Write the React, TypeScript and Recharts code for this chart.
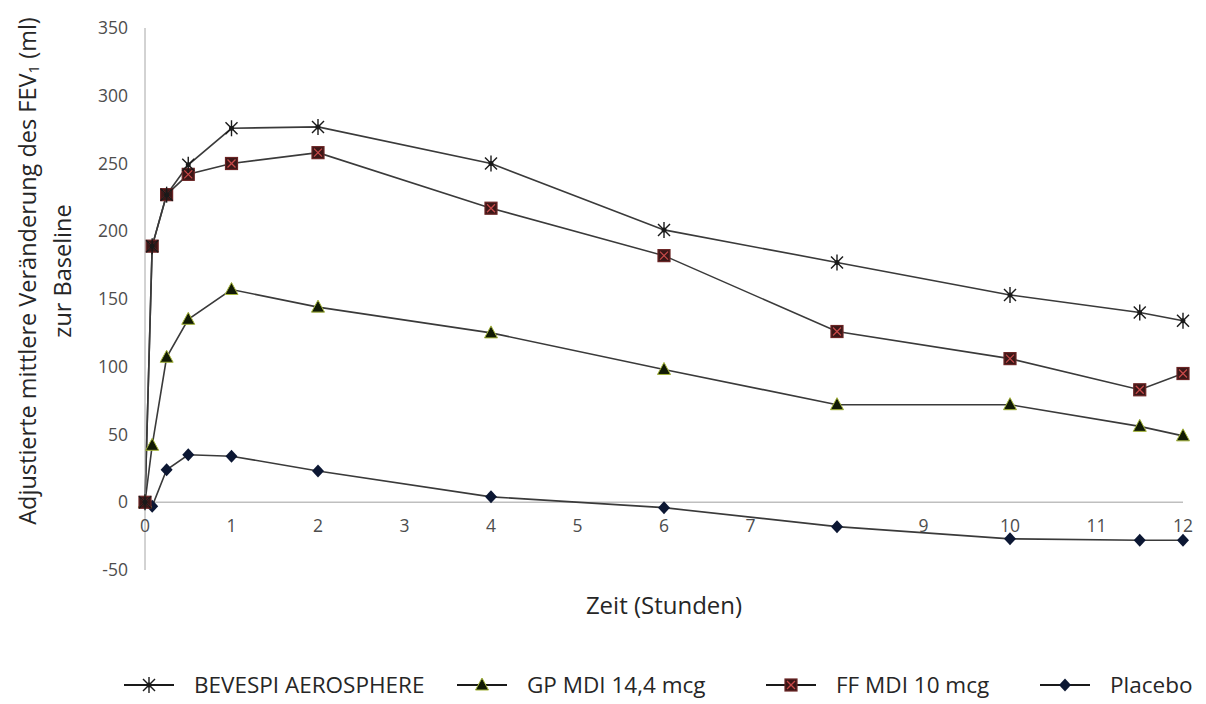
import React from 'react';
import { LineChart, Line, XAxis, YAxis, ReferenceLine } from 'recharts';

const hours = [0, 0.083, 0.25, 0.5, 1, 2, 4, 6, 8, 10, 11.5, 12];
const bevespi = [0, 189, 227, 249, 276, 277, 250, 201, 177, 153, 140, 134];
const gpMdi = [0, 42, 107, 135, 157, 144, 125, 98, 72, 72, 56, 49];
const ffMdi = [0, 189, 227, 242, 250, 258, 217, 182, 126, 106, 83, 95];
const placebo = [0, -3, 24, 35, 34, 23, 4, -4, -18, -27, -28, -28];

const xTicks = [0, 1, 2, 3, 4, 5, 6, 7, 8, 9, 10, 11, 12];
const yTicks = [-50, 0, 50, 100, 150, 200, 250, 300, 350];

const data = hours.map((h, i) => ({
  h,
  bevespi: bevespi[i],
  gp: gpMdi[i],
  ff: ffMdi[i],
  placebo: placebo[i],
}));

const LINE = '#3a3a3a';
const FONT = '"Open Sans", Lato, sans-serif';

const Star = ({ cx, cy }: any) => (
  <g stroke="#1a1a1a" strokeWidth={1.4}>
    <line x1={cx - 6} y1={cy - 6} x2={cx + 6} y2={cy + 6} />
    <line x1={cx - 6} y1={cy + 6} x2={cx + 6} y2={cy - 6} />
    <line x1={cx} y1={cy - 8} x2={cx} y2={cy + 8} />
    <circle cx={cx} cy={cy} r={1.8} fill="#1a1a1a" />
  </g>
);

const Tri = ({ cx, cy }: any) => (
  <path
    d={`M${cx},${cy - 7} L${cx + 6.5},${cy + 5} L${cx - 6.5},${cy + 5} Z`}
    fill="#111a05"
    stroke="#a4b43a"
    strokeWidth={1}
  />
);

const Sq = ({ cx, cy }: any) => (
  <g>
    <rect x={cx - 6} y={cy - 6} width={12} height={12} fill="#3b1717" stroke="#6b2525" strokeWidth={1.2} />
    <line x1={cx - 4} y1={cy - 4} x2={cx + 4} y2={cy + 4} stroke="#c94a4a" strokeWidth={1.2} />
    <line x1={cx - 4} y1={cy + 4} x2={cx + 4} y2={cy - 4} stroke="#c94a4a" strokeWidth={1.2} />
  </g>
);

const Dia = ({ cx, cy }: any) => (
  <path d={`M${cx},${cy - 6.5} L${cx + 6},${cy} L${cx},${cy + 6.5} L${cx - 6},${cy} Z`} fill="#0c1733" />
);

const dotOf = (M: any) => (p: any) => <M key={p.key ?? `${p.index}`} cx={p.cx} cy={p.cy} />;

// label 8 is hidden behind the placebo marker in the original
const XTick = ({ x, y, payload }: any) =>
  payload.value === 8 ? null : (
    <text x={x} y={y - 58} dy="0.71em" textAnchor="middle" fill="#4d4d4d" fontSize={17.5} fontFamily={FONT}>
      {payload.value}
    </text>
  );

const YTitle = ({ viewBox }: any) => {
  const cy = viewBox.y + viewBox.height / 2 - 28;
  return (
    <g fontFamily={FONT} fontSize={23.5} fill="#262626">
      <text transform={`translate(27,${cy}) rotate(-90)`} textAnchor="middle" dominantBaseline="central">
        Adjustierte mittlere Veränderung des FEV
        <tspan fontSize={15} dy={6}>1</tspan>
        <tspan dy={-6}> (ml)</tspan>
      </text>
      <text transform={`translate(62,${cy}) rotate(-90)`} textAnchor="middle" dominantBaseline="central">
        zur Baseline
      </text>
    </g>
  );
};

const legendItems = [
  { name: 'BEVESPI AEROSPHERE', M: Star, x: 122 },
  { name: 'GP MDI 14,4 mcg', M: Tri, x: 455 },
  { name: 'FF MDI 10 mcg', M: Sq, x: 764 },
  { name: 'Placebo', M: Dia, x: 1038 },
];

export default function App() {
  return (
    <div style={{ position: 'absolute', left: 0, top: 0, width: 1206, height: 704, background: '#fff', overflow: 'hidden' }}>
      <LineChart width={1206} height={704} data={data} margin={{ top: 28, right: 23, bottom: 104, left: 85 }}>
        <XAxis
          dataKey="h"
          type="number"
          domain={[0, 12]}
          ticks={xTicks}
          axisLine={false}
          tickLine={false}
          tick={<XTick />}
          height={30}
          label={{
            value: 'Zeit (Stunden)',
            position: 'insideBottom',
            offset: -14,
            fill: '#262626',
            fontSize: 24,
            fontFamily: FONT,
          }}
        />
        <YAxis
          type="number"
          domain={[-50, 350]}
          ticks={yTicks}
          width={60}
          axisLine={{ stroke: '#a6a6a6' }}
          tickLine={false}
          tickMargin={11}
          tick={{ fill: '#4d4d4d', fontSize: 17.5, fontFamily: FONT }}
          label={<YTitle />}
        />
        <ReferenceLine y={0} stroke="#bfbfbf" strokeWidth={1.5} />
        <Line dataKey="placebo" stroke={LINE} strokeWidth={1.6} dot={dotOf(Dia)} isAnimationActive={false} />
        <Line dataKey="gp" stroke={LINE} strokeWidth={1.6} dot={dotOf(Tri)} isAnimationActive={false} />
        <Line dataKey="ff" stroke={LINE} strokeWidth={1.6} dot={dotOf(Sq)} isAnimationActive={false} />
        <Line dataKey="bevespi" stroke={LINE} strokeWidth={1.6} dot={dotOf(Star)} isAnimationActive={false} />
      </LineChart>
      {legendItems.map((it) => (
        <div
          key={it.name}
          style={{
            position: 'absolute',
            left: it.x,
            top: 672,
            height: 26,
            lineHeight: '26px',
            display: 'flex',
            alignItems: 'center',
            fontFamily: FONT,
            fontSize: 22.5,
            color: '#262626',
            whiteSpace: 'nowrap',
          }}
        >
          <svg width={56} height={24}>
            <line x1={2} y1={12} x2={52} y2={12} stroke="#1a1a1a" strokeWidth={2} />
            <it.M cx={27} cy={12} />
          </svg>
          <span style={{ marginLeft: 16 }}>{it.name}</span>
        </div>
      ))}
    </div>
  );
}
